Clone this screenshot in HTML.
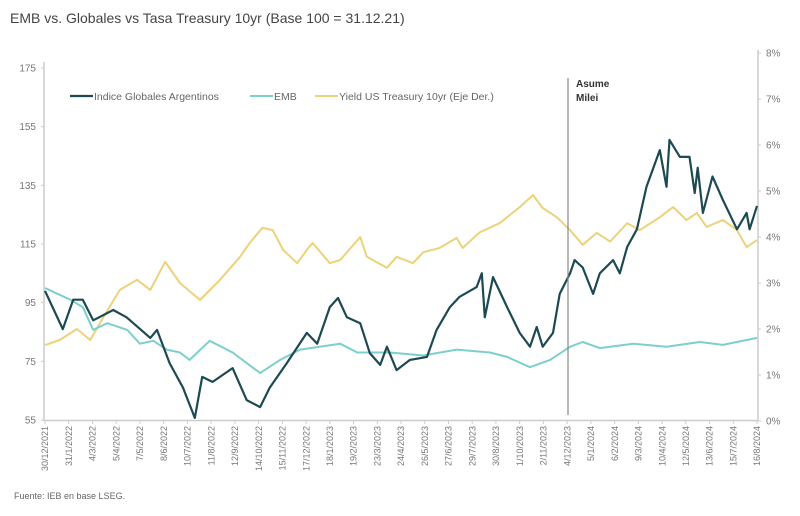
<!DOCTYPE html>
<html><head><meta charset="utf-8"><style>
body{margin:0;background:#fff;width:800px;height:511px;overflow:hidden;font-family:"Liberation Sans",sans-serif}
</style></head><body>
<svg id="chart" width="800" height="511" xmlns="http://www.w3.org/2000/svg" font-family="Liberation Sans, sans-serif">
<text x="10" y="23" font-size="14" fill="#444">EMB vs. Globales vs Tasa Treasury 10yr (Base 100 = 31.12.21)</text>
<g id="axes"></g>
<g id="series"></g>
<line x1="568" y1="78" x2="568" y2="415" stroke="#888" stroke-width="1.2"/>
<text x="576" y="87" font-size="10" font-weight="bold" fill="#333">Asume</text>
<text x="576" y="101" font-size="10" font-weight="bold" fill="#333">Milei</text>
<g>
<line x1="70" y1="96" x2="93" y2="96" stroke="#1d4a52" stroke-width="2.2"/>
<text x="94" y="100" font-size="10.5" fill="#666">Indice Globales Argentinos</text>
<line x1="250" y1="96" x2="273" y2="96" stroke="#7ccfcc" stroke-width="2"/>
<text x="274" y="100" font-size="10.5" fill="#666">EMB</text>
<line x1="315" y1="96" x2="338" y2="96" stroke="#ecd27a" stroke-width="2"/>
<text x="339" y="100" font-size="10.5" fill="#666">Yield US Treasury 10yr (Eje Der.)</text>
</g>
<text x="14" y="499" font-size="9" fill="#666">Fuente: IEB en base LSEG.</text>
</svg>
<script>
const xLabels=["30/12/2021","31/1/2022","4/3/2022","5/4/2022","7/5/2022","8/6/2022","10/7/2022","11/8/2022","12/9/2022","14/10/2022","15/11/2022","17/12/2022","18/1/2023","19/2/2023","23/3/2023","24/4/2023","26/5/2023","27/6/2023","29/7/2023","30/8/2023","1/10/2023","2/11/2023","4/12/2023","5/1/2024","6/2/2024","9/3/2024","10/4/2024","12/5/2024","13/6/2024","15/7/2024","16/8/2024"];
const leftTicks=[55,75,95,115,135,155,175];
const rightTicks=[0,1,2,3,4,5,6,7,8];
const globDays=[0,24,38,51,65,92,110,142,151,168,186,202,212,226,253,272,290,303,326,353,367,384,395,407,425,438,452,461,474,492,515,528,546,559,582,589,593,604,623,640,654,663,671,685,694,708,714,725,739,748,766,775,785,798,811,829,838,842,856,869,876,880,887,900,914,933,946,950,960];
const globVals=[99,86,96,96,89,92.5,90,83,85.7,74.4,66,55.7,69.7,68,72.7,61.8,59.4,66,74.4,84.7,81,93.5,96.6,90,88,77.8,73.8,80,72,75.5,76.5,85.7,93.5,97,100.3,105,90,103.7,93.5,84.7,80,86.7,80,84.7,98,105,109.5,107,98,105,109.5,105,114,120,134.5,147,134.5,150.5,144.7,144.7,132.4,141,125.6,138,130,120,125.6,120,128];
const embDays=[0,34,51,65,84,111,128,146,164,182,195,222,253,290,317,344,398,421,465,510,555,600,623,654,681,708,725,748,793,838,883,914,960];
const embVals=[100,96,93.5,85.7,88,85.7,81,82,79,78,75.5,82,78,71,75.5,79,81,78,78,77,79,78,76.5,73,75.5,80,81.6,79.5,81,80,81.6,80.6,83];
const yDays=[0,20,43,61,84,101,124,142,162,182,209,236,263,276,293,307,321,340,355,361,384,398,425,434,461,474,496,510,532,555,563,586,613,640,658,671,690,708,725,744,762,785,802,829,847,865,879,892,914,933,946,960];
const yVals=[1.65,1.76,2.0,1.76,2.4,2.85,3.07,2.85,3.46,3.0,2.63,3.07,3.57,3.87,4.2,4.15,3.72,3.43,3.76,3.87,3.43,3.5,4.0,3.57,3.33,3.57,3.43,3.67,3.76,3.98,3.76,4.1,4.3,4.65,4.91,4.63,4.43,4.15,3.83,4.09,3.9,4.3,4.15,4.43,4.65,4.37,4.52,4.22,4.37,4.15,3.78,3.93];

const X0=45,X1=757,TOT=960;
const xs=d=>X0+d/TOT*(X1-X0);
const yL=v=>420-(v-55)/120*352;
const yR=p=>421-p/8*368;
const NS="http://www.w3.org/2000/svg";
function mk(t,a,p){const e=document.createElementNS(NS,t);for(const k in a)e.setAttribute(k,a[k]);p.appendChild(e);return e;}
const ax=document.getElementById('axes'),sr=document.getElementById('series');
let e=mk('line',{x1:44,y1:62,x2:44,y2:421,stroke:'#ccc','stroke-width':1.5},ax);


e=mk('line',{x1:758,y1:50,x2:758,y2:421,stroke:'#ccc','stroke-width':1.5},ax);


e=mk('line',{x1:44,y1:420.5,x2:758,y2:420.5,stroke:'#ccc','stroke-width':1.5},ax);


leftTicks.forEach(v=>{const y=yL(v);
mk('line',{x1:41,y1:y,x2:44,y2:y,stroke:'#ccc'},ax);
const t=mk('text',{x:36,y:y+3.5,'font-size':10,fill:'#777','text-anchor':'end'},ax);t.textContent=v;

});
rightTicks.forEach(p=>{const y=yR(p);
mk('line',{x1:758,y1:y,x2:761,y2:y,stroke:'#ccc'},ax);
const t=mk('text',{x:766,y:y+3.5,'font-size':10,fill:'#777'},ax);t.textContent=p+'%';

});
xLabels.forEach((l,i)=>{const x=X0+i*(X1-X0)/(xLabels.length-1);
mk('line',{x1:x,y1:420,x2:x,y2:424,stroke:'#ccc'},ax);
const t=mk('text',{x:0,y:0,'font-size':9,fill:'#777','text-anchor':'end',transform:`translate(${x+3.2},426) rotate(-90)`},ax);t.textContent=l;

});
function line(days,vals,ys,col,w,name){
const d=days.map((dd,i)=>(i?'L':'M')+xs(dd).toFixed(1)+','+ys(vals[i]).toFixed(1)).join('');
const p=mk('path',{d:d,fill:'none',stroke:col,'stroke-width':w,'stroke-linejoin':'round'},sr);

}
line(yDays,yVals,yR,'#ecd27a',2,'yield-line');
line(embDays,embVals,yL,'#7ccfcc',2,'emb-line');
line(globDays,globVals,yL,'#1d4a52',2.2,'globales-line');
</script>
</body></html>
